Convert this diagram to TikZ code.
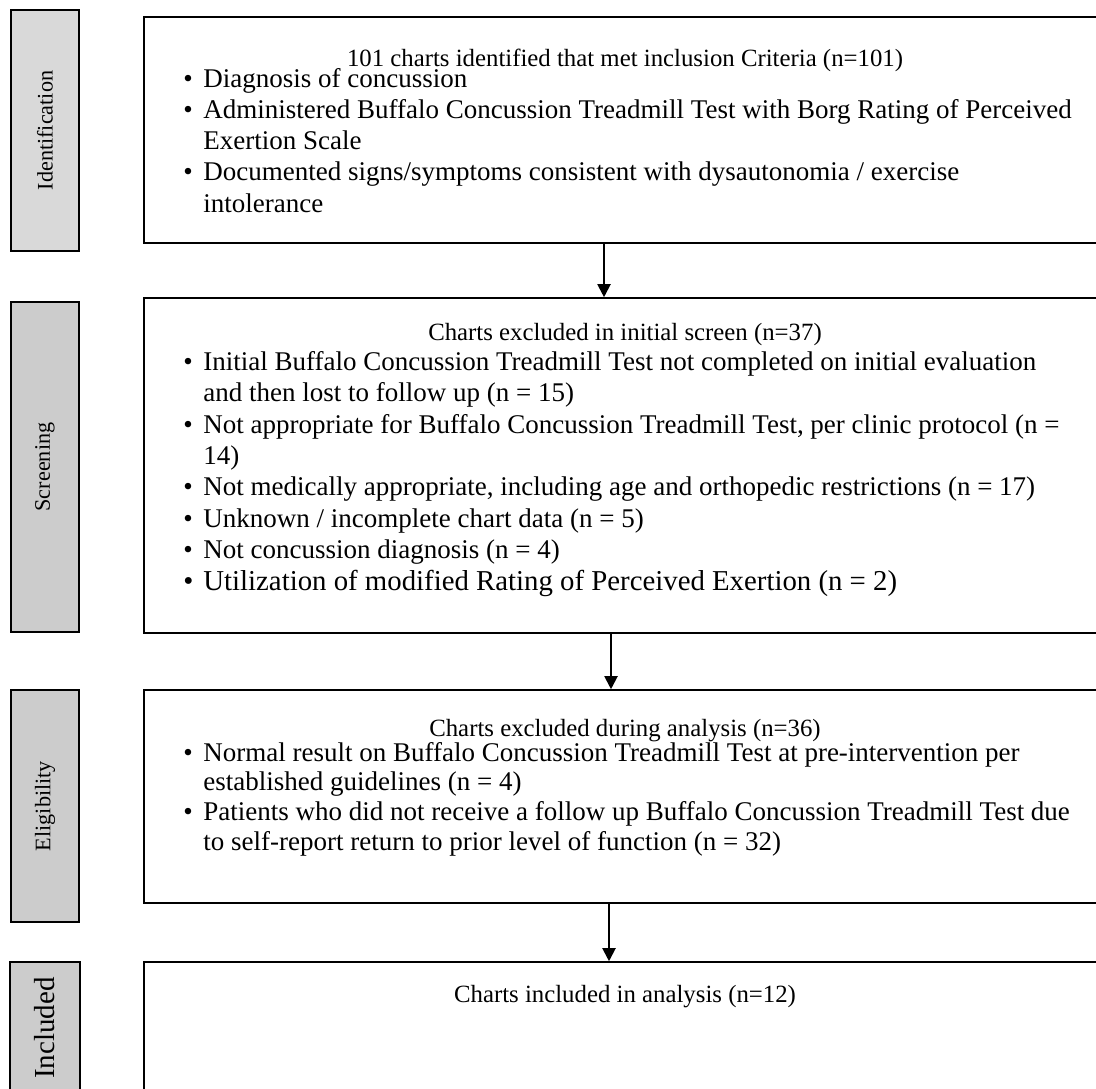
\documentclass[tikz,border=0pt]{standalone}
\usepackage{fontspec}
\setmainfont{Liberation Serif}
\usetikzlibrary{positioning, arrows.meta}
\definecolor{IdentGray}{RGB}{217,217,217}
\definecolor{PhaseGray}{RGB}{204,204,204}
\newcommand{\itm}{\makebox[10pt][l]{\textbullet}}
\newcommand{\hng}{\hspace*{10pt}}

\begin{document}
\begin{tikzpicture}[x=0.5pt, y=-0.5pt]
  \tikzstyle{phase} = [rectangle, draw=black, line width=0.8pt, fill=PhaseGray,
    minimum width=34pt, inner sep=0pt, font=\fontsize{11.1}{13}\selectfont]
  \tikzstyle{stagebox} = [rectangle, draw=black, line width=0.8pt,
    minimum width=481pt, inner sep=0pt]
  \tikzstyle{head} = [anchor=base, inner sep=0pt, font=\fontsize{12.4}{14}\selectfont]
  % list nodes sit on the baseline of their last line
  \tikzstyle{items} = [anchor=base west, inner sep=0pt, align=left,
    font=\fontsize{13.5}{15.6}\selectfont]
  \tikzstyle{flow} = [line width=1pt, -{Triangle[length=6.5pt, width=6.5pt]}]

  \useasboundingbox (0,0) rectangle (1096,1088);

  % Phase labels
  \node[phase, fill=IdentGray, minimum height=120.5pt] (lident) at (45,130.5) {\rotatebox{90}{Identification}};
  \node[phase, minimum height=165pt] (lscreen) at (45,467) {\rotatebox{90}{Screening}};
  \node[phase, minimum height=116pt] (lelig) at (45,806) {\rotatebox{90}{Eligibility}};
  \node[phase, minimum width=35pt, minimum height=66pt, font=\fontsize{14.5}{16}\selectfont] (lincl) at (45,1028) {\rotatebox{90}{Included}};

  % Identification
  \node[stagebox, minimum height=113pt] (ident) at (625,130) {};
  \node[head] (identhead) at (625,66) {101 charts identified that met inclusion Criteria (n=101)};
  \node[items] (identlist) at (183,212) {\itm Diagnosis of concussion\\
    \itm Administered Buffalo Concussion Treadmill Test with Borg Rating of Perceived\\
    \hng Exertion Scale\\
    \itm Documented signs/symptoms consistent with dysautonomia / exercise\\
    \hng intolerance};

  % Screening
  \node[stagebox, minimum height=167.5pt] (screen) at (625,465.5) {};
  \node[head] (screenhead) at (625,340) {Charts excluded in initial screen (n=37)};
  \node[items, font=\fontsize{13.5}{15.7}\selectfont] (screenlist) at (183,590) {\itm Initial Buffalo Concussion Treadmill Test not completed on initial evaluation\\
    \hng and then lost to follow up (n = 15)\\
    \itm Not appropriate for Buffalo Concussion Treadmill Test, per clinic protocol (n =\\
    \hng 14)\\
    \itm Not medically appropriate, including age and orthopedic restrictions (n = 17)\\
    \itm Unknown / incomplete chart data (n = 5)\\
    \itm Not concussion diagnosis (n = 4)\\
    {\fontsize{14.4}{15.7}\selectfont\itm Utilization of modified Rating of Perceived Exertion (n = 2)}};

  % Eligibility
  \node[stagebox, minimum height=106.5pt] (elig) at (625,796.5) {};
  \node[head] (elighead) at (625,736) {Charts excluded during analysis (n=36)};
  \node[items, font=\fontsize{13.5}{14.8}\selectfont] (eliglist) at (183,850) {\itm Normal result on Buffalo Concussion Treadmill Test at pre-intervention per\\
    \hng established guidelines (n = 4)\\
    \itm Patients who did not receive a follow up Buffalo Concussion Treadmill Test due\\
    \hng to self-report return to prior level of function (n = 32)};

  % Included
  \node[stagebox, minimum height=69pt] (incl) at (625,1031) {};
  \node[head] (inclhead) at (625,1002) {Charts included in analysis (n=12)};

  % Arrows
  \draw[flow] ([xshift=-10.5pt]ident.south) -- ([xshift=-10.5pt]screen.north);
  \draw[flow] ([xshift=-7pt]screen.south) -- ([xshift=-7pt]elig.north);
  \draw[flow] ([xshift=-8pt]elig.south) -- ([xshift=-8pt]incl.north);
\end{tikzpicture}
\end{document}
